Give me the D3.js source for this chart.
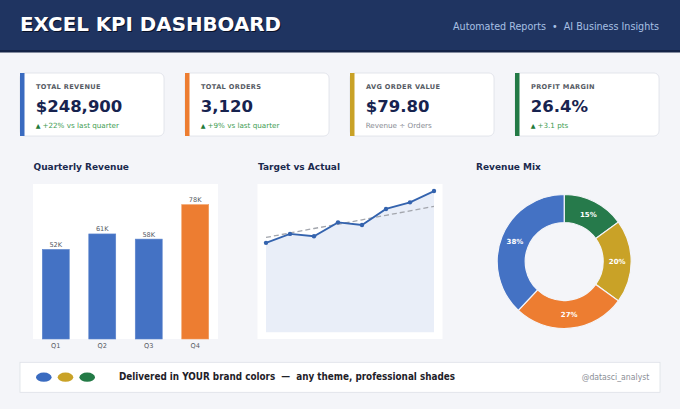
<!DOCTYPE html>
<html>
<head>
<meta charset="utf-8">
<script src="https://cdn.jsdelivr.net/npm/d3@7"></script>
<style>
  body { margin: 0; background: #f4f5f9; }
  svg { display: block; font-family: "DejaVu Sans", sans-serif; }
  svg text { white-space: pre; }
</style>
</head>
<body>
<script>
// KPI cards
var kpiLabels = ["TOTAL REVENUE", "TOTAL ORDERS", "AVG ORDER VALUE", "PROFIT MARGIN"];
var kpiValues = ["$248,900", "3,120", "$79.80", "26.4%"];
var kpiNotes = ["+22% vs last quarter", "+9% vs last quarter", "Revenue ÷ Orders", "+3.1 pts"];
var kpiUp = [true, true, false, true];
var kpiColors = ["#3a6bc0", "#ed7d31", "#c9a227", "#237a46"];

// Quarterly revenue (K)
var quarters = ["Q1", "Q2", "Q3", "Q4"];
var quarterRevenue = [52, 61, 58, 78];

// Target vs actual
var periods = ["P1", "P2", "P3", "P4", "P5", "P6", "P7", "P8"];
var actual = [38.0, 41.8, 40.8, 46.7, 45.6, 52.4, 55.2, 60.0];
var target = [40.3, 42.2, 44.1, 45.9, 47.8, 49.7, 51.6, 53.5];

// Revenue mix
var mixNames = ["Segment D", "Segment C", "Segment B", "Segment A"];
var mixShare = [15, 20, 27, 38];
var mixColors = ["#267a4b", "#c9a227", "#ed7d31", "#4472c4"];

var footerDots = ["#3a6bc0", "#c9a227", "#237a46"];

var width = 680, height = 409;
var svg = d3.select("body").append("svg").attr("width", width).attr("height", height);

svg.append("rect").attr("width", width).attr("height", height).attr("fill", "#f4f5f9");

// Kopfzeile
svg.append("rect").attr("width", width).attr("height", 52).attr("fill", "#1f3461");
svg.append("rect").attr("y", 50).attr("width", width).attr("height", 2.5).attr("fill", "#142447");
svg.append("text").attr("x", 21).attr("y", 32).attr("fill", "#0a1228")
  .attr("font-size", 19).attr("font-weight", "bold")
  .attr("textLength", 261).attr("lengthAdjust", "spacingAndGlyphs")
  .text("EXCEL KPI DASHBOARD");
svg.append("text").attr("x", 20).attr("y", 31).attr("fill", "#ffffff")
  .attr("font-size", 19).attr("font-weight", "bold")
  .attr("textLength", 261).attr("lengthAdjust", "spacingAndGlyphs")
  .text("EXCEL KPI DASHBOARD");
svg.append("text").attr("x", 659).attr("y", 29.7).attr("text-anchor", "end")
  .attr("fill", "#a8c0e4").attr("font-size", 10.5)
  .attr("textLength", 206).attr("lengthAdjust", "spacingAndGlyphs")
  .text("Automated Reports  •  AI Business Insights");

// Karten, 144 breit, Abstand 21
var cardW = 144;
var cards = svg.selectAll("g.card").data(kpiLabels).enter().append("g")
  .attr("class", "card")
  .attr("transform", function(d, i) { return "translate(" + (20 + i * 165) + ",73)"; });

cards.append("rect").attr("width", cardW).attr("height", 63).attr("rx", 5)
  .attr("fill", "#ffffff").attr("stroke", "#dde0e7").attr("stroke-width", 0.8);
cards.append("rect").attr("width", 4.5).attr("height", 63)
  .attr("fill", function(d, i) { return kpiColors[i]; });
cards.append("text").attr("x", 16).attr("y", 15.7).attr("fill", "#555a63")
  .attr("font-size", 6.6).attr("font-weight", "bold").attr("letter-spacing", 0.35)
  .text(function(d) { return d; });
cards.append("text").attr("x", 15.7).attr("y", 39.3).attr("fill", "#17234f")
  .attr("font-size", 16.5).attr("font-weight", "bold")
  .text(function(d, i) { return kpiValues[i]; });
var notes = cards.append("text").attr("x", 15.7).attr("y", 54.5).attr("font-size", 7.2)
  .attr("fill", function(d, i) { return kpiUp[i] ? "#3e9c52" : "#878b93"; });
notes.each(function(d, i) {
  var t = d3.select(this);
  if (kpiUp[i]) {
    t.append("tspan").attr("font-size", 6.2).attr("fill", "#237a38").text("▲ ");
  }
  t.append("tspan").text(kpiNotes[i]);
});

// Abschnittstitel
var titles = [["Quarterly Revenue", 33.5], ["Target vs Actual", 258], ["Revenue Mix", 476]];
titles.forEach(function(t) {
  svg.append("text").attr("x", t[1]).attr("y", 169.5).attr("fill", "#1b2a4e")
    .attr("font-size", 9).attr("font-weight", "bold").text(t[0]);
});

// Balkendiagramm
var barX = d3.scaleBand().domain(quarters).range([33, 218]).paddingInner(0.42).paddingOuter(0.2);
var barY = d3.scaleLinear().domain([0, 90]).range([339, 184]);
svg.append("rect").attr("x", 33).attr("y", 184).attr("width", 185).attr("height", 155).attr("fill", "#ffffff");
svg.selectAll("rect.bar").data(quarterRevenue).enter().append("rect")
  .attr("class", "bar")
  .attr("x", function(d, i) { return barX(quarters[i]); })
  .attr("width", barX.bandwidth())
  .attr("y", function(d) { return barY(d); })
  .attr("height", function(d) { return barY(0) - barY(d); })
  .attr("fill", function(d, i) { return i === 3 ? "#ed7d31" : "#4472c4"; })
  .attr("stroke", function(d, i) { return i === 3 ? "#f09a5c" : "#5b83cc"; })
  .attr("stroke-width", 0.6);
svg.selectAll("text.barlab").data(quarterRevenue).enter().append("text")
  .attr("class", "barlab")
  .attr("x", function(d, i) { return barX(quarters[i]) + barX.bandwidth() / 2; })
  .attr("y", function(d) { return barY(d) - 2.5; })
  .attr("text-anchor", "middle").attr("font-size", 6.6).attr("fill", "#555a63")
  .text(function(d) { return d + "K"; });
var xAxis = svg.append("g").attr("transform", "translate(0,339)")
  .call(d3.axisBottom(barX).tickSize(0).tickPadding(4.5));
xAxis.select(".domain").remove();
xAxis.selectAll("text").attr("font-size", 6.6).attr("fill", "#555a63")
  .attr("font-family", "DejaVu Sans, sans-serif");

// Linie Ziel gegen Ist
var lx = d3.scalePoint().domain(periods).range([266, 434]);
var ly = d3.scaleLinear().domain([0, 63]).range([332.3, 184]);
svg.append("rect").attr("x", 257.5).attr("y", 184).attr("width", 185).attr("height", 155).attr("fill", "#ffffff");
svg.append("path").datum(actual)
  .attr("fill", "#e9eef8")
  .attr("d", d3.area().x(function(d, i) { return lx(periods[i]); }).y0(ly(0)).y1(function(d) { return ly(d); }));
svg.append("path").datum(target)
  .attr("fill", "none").attr("stroke", "#a3a6ad").attr("stroke-width", 1.3)
  .attr("stroke-dasharray", "5,3")
  .attr("d", d3.line().x(function(d, i) { return lx(periods[i]); }).y(function(d) { return ly(d); }));
svg.append("path").datum(actual)
  .attr("fill", "none").attr("stroke", "#3463ae").attr("stroke-width", 1.8)
  .attr("d", d3.line().x(function(d, i) { return lx(periods[i]); }).y(function(d) { return ly(d); }));
svg.selectAll("circle.pt").data(actual).enter().append("circle")
  .attr("class", "pt")
  .attr("cx", function(d, i) { return lx(periods[i]); })
  .attr("cy", function(d) { return ly(d); })
  .attr("r", 2.2).attr("fill", "#3463ae");

// Ring
var pie = d3.pie().sort(null).value(function(d) { return d; });
var arcs = pie(mixShare);
var arc = d3.arc().innerRadius(39).outerRadius(67);
var labelArc = d3.arc().innerRadius(53).outerRadius(53);
var donut = svg.append("g").attr("transform", "translate(564.2,261.5)");
donut.selectAll("path").data(arcs).enter().append("path")
  .attr("d", arc)
  .attr("fill", function(d, i) { return mixColors[i]; })
  .attr("stroke", "#f4f5f9").attr("stroke-width", 1.2);
donut.selectAll("text").data(arcs).enter().append("text")
  .attr("transform", function(d) { return "translate(" + labelArc.centroid(d) + ")"; })
  .attr("dy", "0.35em").attr("text-anchor", "middle")
  .attr("font-size", 7).attr("font-weight", "bold").attr("fill", "#ffffff")
  .text(function(d) { return d.data + "%"; });

// Fusszeile
svg.append("rect").attr("x", 20).attr("y", 362.3).attr("width", 640).attr("height", 30)
  .attr("fill", "#ffffff").attr("stroke", "#dde0e7").attr("stroke-width", 0.8);
svg.selectAll("ellipse.dot").data(footerDots).enter().append("ellipse")
  .attr("class", "dot")
  .attr("cx", function(d, i) { return 43.8 + i * 21.7; })
  .attr("cy", 377.2).attr("rx", 7.8).attr("ry", 4.6)
  .attr("fill", function(d) { return d; });
svg.append("text").attr("x", 119).attr("y", 380).attr("fill", "#1e2128")
  .attr("font-size", 10).attr("font-weight", "bold")
  .attr("textLength", 336).attr("lengthAdjust", "spacingAndGlyphs")
  .text("Delivered in YOUR brand colors  —  any theme, professional shades");
svg.append("text").attr("x", 649.3).attr("y", 380).attr("text-anchor", "end")
  .attr("fill", "#8a8e96").attr("font-size", 8)
  .attr("textLength", 67.6).attr("lengthAdjust", "spacingAndGlyphs")
  .text("@datasci_analyst");
</script>
</body>
</html>
